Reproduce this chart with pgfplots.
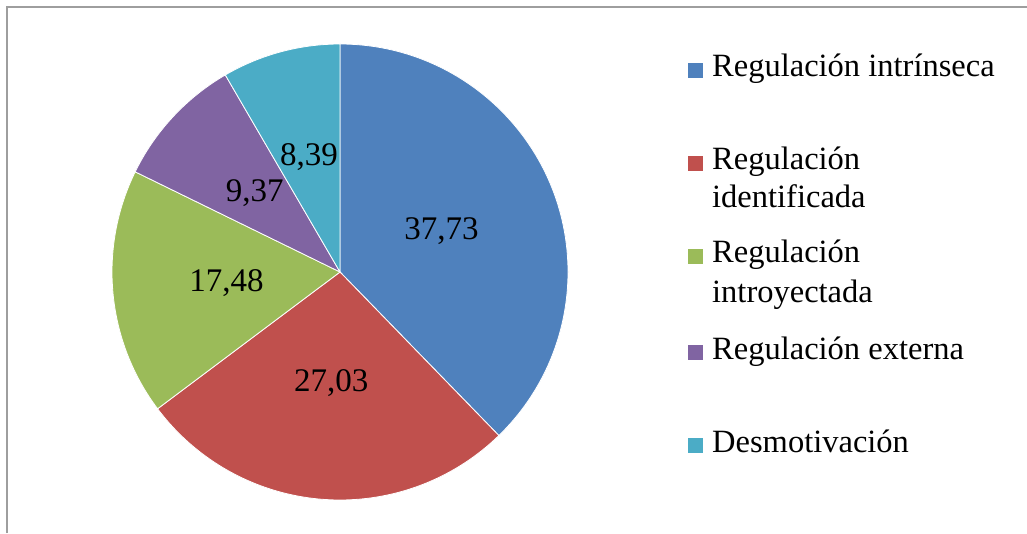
\documentclass[border=0pt]{standalone}
\usepackage{fontspec}
\setmainfont{Liberation Serif}
\usepackage{pgfplots}
\pgfplotsset{compat=1.18}
\definecolor{cA}{HTML}{4F81BD}
\definecolor{cB}{HTML}{C0504D}
\definecolor{cC}{HTML}{9BBB59}
\definecolor{cD}{HTML}{8064A2}
\definecolor{cE}{HTML}{4BACC6}
\begin{document}
\begin{tikzpicture}[x=1pt,y=1pt]
\path[use as bounding box] (0,0) rectangle (1027,533);
\draw[line width=2pt, color=black!38] (7,0) -- (7,526) -- (1027,526);
% slice values (percent)
\def\vA{37.73}\def\vB{27.03}\def\vC{17.48}\def\vD{9.37}\def\vE{8.39}
\pgfmathsetmacro\aA{90}
\pgfmathsetmacro\aB{\aA-3.6*\vA}
\pgfmathsetmacro\aC{\aB-3.6*\vB}
\pgfmathsetmacro\aD{\aC-3.6*\vC}
\pgfmathsetmacro\aE{\aD-3.6*\vD}
\pgfmathsetmacro\aF{\aE-3.6*\vE}
\begin{axis}[at={(340pt,261pt)}, anchor=center, width=456pt, height=456pt,
  scale only axis, hide axis, xmin=-1, xmax=1, ymin=-1, ymax=1, clip=false]
\fill[cA, draw=white, line width=0.8pt] (axis cs:0,0) -- (axis cs:{cos(\aA)},{sin(\aA)}) arc[start angle=\aA, end angle=\aB, radius=228pt] -- cycle;
\fill[cB, draw=white, line width=0.8pt] (axis cs:0,0) -- (axis cs:{cos(\aB)},{sin(\aB)}) arc[start angle=\aB, end angle=\aC, radius=228pt] -- cycle;
\fill[cC, draw=white, line width=0.8pt] (axis cs:0,0) -- (axis cs:{cos(\aC)},{sin(\aC)}) arc[start angle=\aC, end angle=\aD, radius=228pt] -- cycle;
\fill[cD, draw=white, line width=0.8pt] (axis cs:0,0) -- (axis cs:{cos(\aD)},{sin(\aD)}) arc[start angle=\aD, end angle=\aE, radius=228pt] -- cycle;
\fill[cE, draw=white, line width=0.8pt] (axis cs:0,0) -- (axis cs:{cos(\aE)},{sin(\aE)}) arc[start angle=\aE, end angle=\aF, radius=228pt] -- cycle;
\node[font=\fontsize{33}{38}\selectfont] at (axis cs:{0.48*cos((\aA+\aB)/2)},{0.48*sin((\aA+\aB)/2)}) {37,73};
\node[font=\fontsize{33}{38}\selectfont] at (axis cs:{0.49*cos((\aB+\aC)/2)},{0.49*sin((\aB+\aC)/2)}) {27,03};
\node[font=\fontsize{33}{38}\selectfont] at (axis cs:{0.50*cos((\aC+\aD)/2)},{0.50*sin((\aC+\aD)/2)}) {17,48};
\node[font=\fontsize{33}{38}\selectfont] at (axis cs:{0.51*cos((\aD+\aE)/2)},{0.51*sin((\aD+\aE)/2)}) {9,37};
\node[font=\fontsize{33}{38}\selectfont] at (axis cs:{0.52*cos((\aE+\aF)/2)},{0.52*sin((\aE+\aF)/2)}) {8,39};
\end{axis}
% legend
\begin{scope}[every node/.style={anchor=base west, inner sep=0pt, font=\fontsize{32.5}{38}\selectfont}]
\fill[cA] (688,455) rectangle (703,470);
\node at (712,456) {Regulación intrínseca};
\fill[cB] (688,362) rectangle (703,377);
\node at (712,363) {Regulación};
\node at (712,325) {identificada};
\fill[cC] (688,269) rectangle (703,284);
\node at (712,270) {Regulación};
\node at (712,230) {introyectada};
\fill[cD] (688,173) rectangle (703,188);
\node at (712,174) {Regulación externa};
\fill[cE] (688,80) rectangle (703,95);
\node at (712,81) {Desmotivación};
\end{scope}
\end{tikzpicture}
\end{document}
